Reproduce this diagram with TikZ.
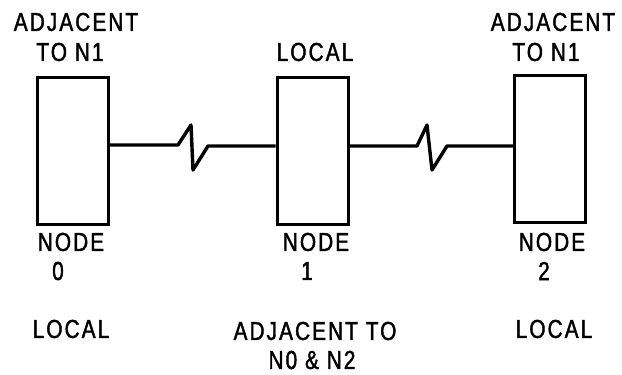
\documentclass[tikz,border=0pt]{standalone}
\usepackage{fontspec}
\setmainfont[FakeStretch=0.8,LetterSpace=8,FakeBold=1.6]{Liberation Sans}
\begin{document}
\begin{tikzpicture}[x=1pt,y=-1pt,
  box/.style={draw,line width=3pt,minimum width=71pt,minimum height=147pt,inner sep=0pt},
  lbl/.style={font=\fontsize{26}{28}\selectfont,inner sep=0pt,align=center},
  wire/.style={line width=3.4pt,line join=round}]
\useasboundingbox (0,0) rectangle (622,375);
\node[box] (n0) at (72.5,151) {};
\node[box] (n1) at (312.5,151) {};
\node[box] (n2) at (550,149) {};
\coordinate (la) at (0,145);
\coordinate (lb) at (0,146);
\draw[wire] (n0.east |- la) -- (178,145) -- (191,125) -- (193,170) -- (208,146) -- (n1.west |- lb);
\draw[wire] (n1.east |- lb) -- (417,146) -- (427,125) -- (432,170) -- (447,146) -- (n2.west |- lb);
\node[lbl] (t0a) at (76,22) {ADJACENT};
\node[lbl] (t0b) at (70,52) {TO N1};
\node[lbl] (t1a) at (315,52) {LOCAL};
\node[lbl] (t2a) at (553,22) {ADJACENT};
\node[lbl] (t2b) at (546,52) {TO N1};
\node[lbl] (b0a) at (71,242) {NODE};
\node[lbl] (b0b) at (58,271) {0};
\node[lbl] (b1a) at (316,242) {NODE};
\node[lbl] (b1b) at (307,271) {1};
\node[lbl] (b2a) at (552,242) {NODE};
\node[lbl] (b2b) at (544,271) {2};
\node[lbl] (c0) at (71,329) {LOCAL};
\node[lbl] (c1a) at (315,331) {ADJACENT TO};
\node[lbl] (c1b) at (312,360) {N0 \& N2};
\node[lbl] (c2) at (554,329) {LOCAL};
\end{tikzpicture}
\end{document}
